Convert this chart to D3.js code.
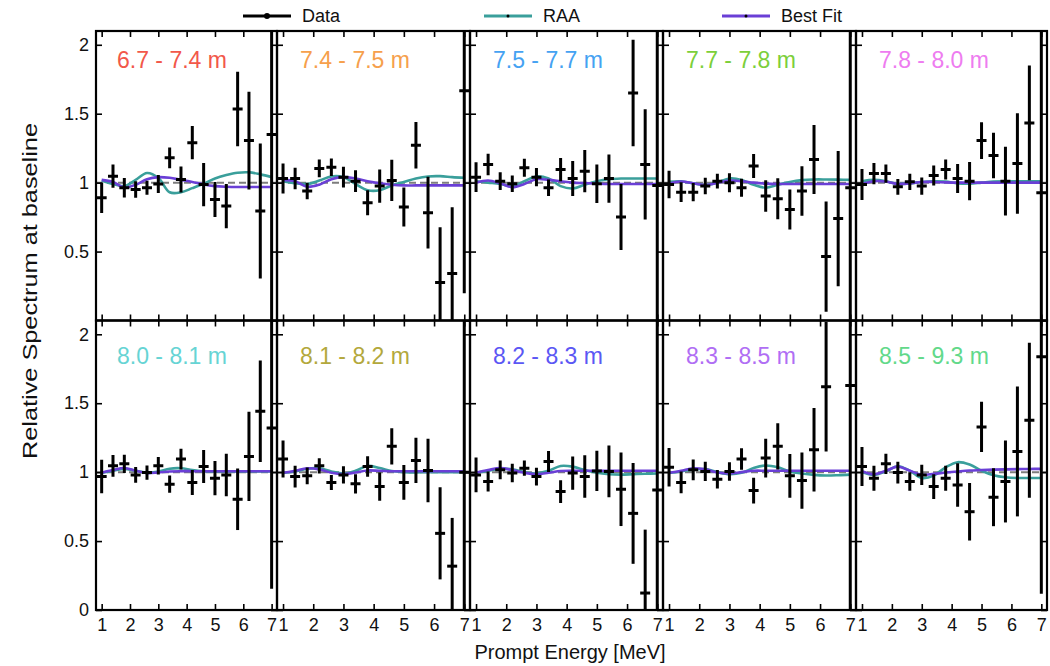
<!DOCTYPE html>
<html>
<head>
<meta charset="utf-8">
<script src="https://cdn.jsdelivr.net/npm/d3@7"></script>
<style>
  body { margin: 0; background: #fff; }
  svg { display: block; }
</style>
</head>
<body>
<svg id="chart" width="1050" height="666"></svg>
<script>
// Prompt-energy bin centres (MeV), shared by every baseline region
const energies = [1.0, 1.4, 1.8, 2.2, 2.6, 3.0, 3.4, 3.8, 4.2, 4.6, 5.0, 5.4, 5.8, 6.2, 6.6, 7.0];

const regionLabels = ["6.7 - 7.4 m", "7.4 - 7.5 m", "7.5 - 7.7 m", "7.7 - 7.8 m", "7.8 - 8.0 m",
                      "8.0 - 8.1 m", "8.1 - 8.2 m", "8.2 - 8.3 m", "8.3 - 8.5 m", "8.5 - 9.3 m"];
const regionColors = ["#f2584a", "#f6a04c", "#45a2f2", "#7ccf3a", "#ee7cf0",
                      "#66d4d4", "#b3a83c", "#5b57f4", "#b06ef4", "#62d98a"];

// Measured relative spectrum per region (null = empty bin)
const values1 = [0.89, 1.047, 0.963, 0.95, 0.963, 0.99, 1.18, 1.023, 1.29, 0.986, 0.878, 0.83, 1.534, 1.305, 0.794, 1.35];
const values2 = [1.03, 1.03, 0.939, 1.103, 1.112, 1.04, 1.011, 0.854, 0.975, 1.016, 0.823, 1.271, 0.782, 0.276, 0.341, 1.667];
const values3 = [1.04, 1.132, 1.011, 0.992, 1.108, 1.04, 0.963, 1.095, 1.03, 1.083, 0.992, 1.03, 0.751, 1.65, 1.132, 0.98];
const values4 = [0.987, 0.931, 0.931, 0.975, 1.011, 0.999, 0.963, 1.12, 0.903, 0.883, 0.806, 0.939, 1.168, 0.464, 0.739, 0.963];
const values5 = [0.987, 1.066, 1.066, 0.97, 1.006, 0.975, 1.052, 1.095, 1.03, 1.011, 1.305, 1.197, 1.011, 1.139, 1.433, 0.927];
const values6 = [0.968, 1.046, 1.06, 0.98, 0.997, 1.046, 0.913, 1.095, 0.925, 1.041, 0.956, 0.98, 0.803, 1.114, 1.441, 1.32];
const values7 = [1.095, 0.968, 0.973, 1.046, 0.925, 0.98, 0.915, 1.041, 0.895, 1.187, 0.925, 1.085, 1.012, 0.556, 0.318, 1.0];
const values8 = [0.98, 0.932, 1.017, 0.993, 1.029, 0.968, 1.077, 0.859, 0.993, 0.968, 1.009, 1.005, 0.876, 0.701, 0.123, 0.871];
const values9 = [1.036, 0.925, 1.017, 1.005, 0.949, 1.005, 1.095, 0.866, 1.102, 1.187, 0.973, 0.939, 1.162, 1.619, null, 1.629];
const values10 = [1.041, 0.956, 1.06, 0.997, 0.932, 0.98, 0.895, 0.956, 0.907, 0.713, 1.328, 0.818, 0.932, 1.15, 1.376, 1.837];

// Statistical uncertainties per bin
const errors1 = [0.11, 0.084, 0.07, 0.06, 0.05, 0.065, 0.075, 0.095, 0.12, 0.157, 0.127, 0.16, 0.27, 0.355, 0.49, 1.5];
const errors2 = [0.108, 0.078, 0.06, 0.064, 0.064, 0.075, 0.078, 0.09, 0.12, 0.15, 0.142, 0.169, 0.26, 0.40, 0.48, 1.47];
const errors3 = [0.108, 0.078, 0.064, 0.06, 0.065, 0.066, 0.06, 0.084, 0.127, 0.153, 0.139, 0.175, 0.239, 0.386, 0.40, 1.7];
const errors4 = [0.10, 0.072, 0.066, 0.06, 0.053, 0.069, 0.065, 0.087, 0.114, 0.148, 0.145, 0.18, 0.25, 0.40, 0.49, 1.8];
const errors5 = [0.112, 0.077, 0.066, 0.057, 0.059, 0.063, 0.072, 0.072, 0.106, 0.139, 0.133, 0.165, 0.25, 0.364, 0.416, 1.7];
const errors6 = [0.121, 0.079, 0.067, 0.057, 0.052, 0.064, 0.063, 0.075, 0.091, 0.119, 0.124, 0.154, 0.223, 0.324, 0.368, 1.165];
const errors7 = [0.134, 0.079, 0.061, 0.055, 0.055, 0.063, 0.07, 0.075, 0.102, 0.131, 0.126, 0.164, 0.231, 0.334, 0.35, 1.5];
const errors8 = [0.126, 0.073, 0.068, 0.067, 0.055, 0.064, 0.076, 0.082, 0.121, 0.154, 0.146, 0.188, 0.267, 0.366, 0.46, 1.5];
const errors9 = [0.14, 0.079, 0.075, 0.07, 0.067, 0.067, 0.078, 0.093, 0.14, 0.167, 0.158, 0.204, 0.303, 0.47, null, 1.7];
const errors10 = [0.141, 0.091, 0.073, 0.079, 0.067, 0.073, 0.089, 0.091, 0.158, 0.209, 0.182, 0.21, 0.297, 0.471, 0.562, 1.72];

// Model curves sampled on the same energy grid
const raa1 = [1.016, 0.99, 0.975, 1.02, 1.07, 1.035, 0.93, 0.93, 0.96, 0.992, 1.03, 1.055, 1.072, 1.075, 1.06, 1.04];
const raa2 = [1.01, 0.995, 0.99, 1.015, 1.045, 1.04, 0.99, 0.945, 0.945, 0.98, 1.005, 1.03, 1.045, 1.047, 1.04, 1.035];
const raa3 = [1.01, 1.0, 0.99, 0.975, 1.01, 1.045, 1.03, 0.975, 0.958, 0.985, 1.01, 1.025, 1.03, 1.03, 1.03, 1.03];
const raa4 = [1.006, 1.01, 0.995, 0.982, 1.0, 1.03, 1.02, 0.985, 0.963, 0.985, 1.005, 1.018, 1.023, 1.023, 1.022, 1.02];
const raa5 = [1.01, 1.02, 1.01, 0.99, 0.995, 1.005, 1.01, 1.008, 0.995, 0.992, 1.0, 1.008, 1.01, 1.01, 1.01, 1.01];
const raa6 = [0.995, 1.01, 1.024, 1.01, 0.995, 1.005, 1.025, 1.028, 1.015, 1.007, 1.005, 1.005, 1.005, 1.005, 1.005, 1.005];
const raa7 = [0.995, 1.005, 1.025, 1.028, 1.005, 0.99, 1.01, 1.045, 1.03, 1.008, 1.0, 0.998, 1.0, 1.0, 1.0, 1.0];
const raa8 = [0.995, 1.01, 1.025, 1.02, 1.0, 0.99, 1.01, 1.045, 1.04, 1.015, 0.995, 0.985, 0.982, 0.985, 0.988, 0.99];
const raa9 = [0.995, 1.005, 1.02, 1.022, 1.0, 0.985, 0.995, 1.03, 1.048, 1.035, 1.005, 0.99, 0.98, 0.976, 0.978, 0.982];
const raa10 = [1.0, 0.98, 1.005, 1.043, 1.01, 0.958, 0.975, 1.035, 1.072, 1.055, 1.01, 0.978, 0.963, 0.958, 0.958, 0.958];

const fit1 = [1.02, 1.005, 0.965, 0.985, 1.025, 1.04, 1.035, 1.02, 1.005, 0.987, 0.975, 0.97, 0.968, 0.968, 0.968, 0.968];
const fit2 = [1.02, 1.01, 0.97, 0.985, 1.025, 1.04, 1.03, 1.01, 0.995, 0.985, 0.98, 0.98, 0.98, 0.98, 0.98, 0.98];
const fit3 = [1.0, 1.015, 0.995, 0.967, 0.99, 1.025, 1.02, 1.01, 1.0, 0.997, 0.993, 0.99, 0.99, 0.99, 0.99, 0.99];
const fit4 = [0.992, 1.008, 0.995, 0.982, 0.998, 1.015, 1.01, 1.0, 0.993, 0.99, 0.99, 0.99, 0.99, 0.99, 0.99, 0.99];
const fit5 = [0.99, 1.01, 1.008, 0.99, 0.995, 1.005, 1.005, 1.002, 1.0, 1.0, 1.0, 1.0, 1.0, 1.0, 1.0, 1.0];
const fit6 = [0.995, 1.015, 1.03, 1.01, 0.993, 0.998, 1.005, 1.007, 1.007, 1.007, 1.007, 1.007, 1.007, 1.007, 1.007, 1.007];
const fit7 = [0.995, 1.01, 1.028, 1.02, 0.995, 0.985, 0.998, 1.012, 1.01, 1.007, 1.007, 1.007, 1.007, 1.007, 1.007, 1.007];
const fit8 = [0.995, 1.015, 1.03, 1.015, 0.995, 0.985, 0.995, 1.008, 1.01, 1.01, 1.01, 1.01, 1.01, 1.01, 1.01, 1.01];
const fit9 = [0.995, 1.01, 1.028, 1.02, 0.998, 0.99, 1.0, 1.01, 1.01, 1.01, 1.01, 1.01, 1.01, 1.01, 1.01, 1.01];
const fit10 = [1.007, 0.985, 1.01, 1.04, 1.01, 0.982, 0.988, 0.997, 1.005, 1.012, 1.015, 1.018, 1.02, 1.022, 1.023, 1.024];

const xTickValues = [1, 2, 3, 4, 5, 6, 7];
const yTickValuesTop = [0.5, 1, 1.5, 2];
const yTickValuesBottom = [0, 0.5, 1, 1.5, 2];

const legendLabels = ["Data", "RAA", "Best Fit"];

const allValues = [values1, values2, values3, values4, values5, values6, values7, values8, values9, values10];
const allErrors = [errors1, errors2, errors3, errors4, errors5, errors6, errors7, errors8, errors9, errors10];
const allRaa = [raa1, raa2, raa3, raa4, raa5, raa6, raa7, raa8, raa9, raa10];
const allFit = [fit1, fit2, fit3, fit4, fit5, fit6, fit7, fit8, fit9, fit10];

// ---- layout & styling ----
const colEdges = [96, 277, 470, 663, 856, 1047];
const rowEdges = [31, 320.5, 610];
const xDomain = [0.8, 7.19];
const yDomain = [0, 2.1];
const RAA_COLOR = "#3a9f9b";
const FIT_COLOR = "#6a3fd6";
const FONT = "'Liberation Sans', Arial, Helvetica, sans-serif";

const svg = d3.select("#chart");
const defs = svg.append("defs");

regionLabels.forEach((label, i) => {
  const c = i % 5, r = Math.floor(i / 5);
  const x = d3.scaleLinear().domain(xDomain).range([colEdges[c], colEdges[c + 1]]);
  const y = d3.scaleLinear().domain(yDomain).range([rowEdges[r + 1], rowEdges[r]]);
  const [x0, x1] = x.range();
  const [yb, yt] = y.range();

  const clipId = "clip-" + i;
  defs.append("clipPath").attr("id", clipId)
    .append("rect").attr("x", x0).attr("y", yt).attr("width", x1 - x0).attr("height", yb - yt);

  const g = svg.append("g");
  const plot = g.append("g").attr("clip-path", `url(#${clipId})`);

  // unity reference
  plot.append("line")
    .attr("x1", x0).attr("x2", x1).attr("y1", y(1)).attr("y2", y(1))
    .attr("stroke", "#7d7d7d").attr("stroke-width", 2).attr("stroke-dasharray", "7,4");

  const lineGen = d3.line()
    .x(d => x(d[0])).y(d => y(d[1]))
    .curve(d3.curveCatmullRom.alpha(0.5));

  plot.append("path")
    .attr("d", lineGen(energies.map((e, k) => [e, allRaa[i][k]])))
    .attr("fill", "none").attr("stroke", RAA_COLOR).attr("stroke-width", 2.6);
  plot.append("path")
    .attr("d", lineGen(energies.map((e, k) => [e, allFit[i][k]])))
    .attr("fill", "none").attr("stroke", FIT_COLOR).attr("stroke-width", 2.6);

  // data points with error bars
  const pts = energies.map((e, k) => ({ e, v: allValues[i][k], err: allErrors[i][k] }))
    .filter(d => d.v !== null);
  const pg = plot.selectAll("g.pt").data(pts).join("g").attr("class", "pt");
  pg.append("line")
    .attr("x1", d => x(d.e)).attr("x2", d => x(d.e))
    .attr("y1", d => y(d.v - d.err)).attr("y2", d => y(d.v + d.err))
    .attr("stroke", "#000").attr("stroke-width", 3);
  pg.append("line")
    .attr("x1", d => x(d.e) - 5).attr("x2", d => x(d.e) + 5)
    .attr("y1", d => y(d.v)).attr("y2", d => y(d.v))
    .attr("stroke", "#000").attr("stroke-width", 3);

  // ticks on all four sides, pointing inward
  const bottomAxis = d3.axisBottom(x).tickValues(xTickValues).tickSize(-6).tickPadding(8)
    .tickFormat(r === 1 ? d3.format("d") : () => "");
  const topAxis = d3.axisTop(x).tickValues(xTickValues).tickSize(-6).tickFormat(() => "");
  const leftAxis = d3.axisLeft(y).tickValues(r === 0 ? yTickValuesTop : yTickValuesBottom)
    .tickSize(-6).tickPadding(7)
    .tickFormat(c === 0 ? (d => String(d)) : () => "");
  const rightAxis = d3.axisRight(y).tickValues(yTickValuesBottom).tickSize(-6).tickFormat(() => "");

  const axes = [
    [bottomAxis, `translate(0,${yb})`],
    [topAxis, `translate(0,${yt})`],
    [leftAxis, `translate(${x0},0)`],
    [rightAxis, `translate(${x1},0)`]
  ];
  axes.forEach(([ax, tr]) => {
    const a = g.append("g").attr("transform", tr).call(ax);
    a.select(".domain").remove();
    a.selectAll(".tick line").attr("stroke", "#000").attr("stroke-width", 1.6);
    a.selectAll(".tick text").attr("font-family", FONT).attr("font-size", 18).attr("fill", "#111");
  });

  // frame
  g.append("rect")
    .attr("x", x0).attr("y", yt).attr("width", x1 - x0).attr("height", yb - yt)
    .attr("fill", "none").attr("stroke", "#000").attr("stroke-width", 2.2);

  // region label
  g.append("text")
    .attr("x", x0 + (c === 0 ? 21 : 23)).attr("y", yt + (r === 0 ? 37 : 43))
    .attr("font-family", FONT).attr("font-size", 23)
    .attr("fill", regionColors[i])
    .text(label);
});

// axis titles
svg.append("text")
  .attr("x", 570).attr("y", 659)
  .attr("text-anchor", "middle")
  .attr("font-family", FONT).attr("font-size", 20).attr("fill", "#111")
  .text("Prompt Energy [MeV]");

svg.append("text")
  .attr("transform", "translate(37,291) rotate(-90)")
  .attr("text-anchor", "middle")
  .attr("font-family", FONT).attr("font-size", 21).attr("fill", "#111")
  .attr("textLength", 336).attr("lengthAdjust", "spacingAndGlyphs")
  .text("Relative Spectrum at baseline");

// legend
const legendX = [243, 484, 722];
const legendColors = ["#000", RAA_COLOR, FIT_COLOR];
const legendDot = [3, 1.5, 1.5];
legendLabels.forEach((lab, k) => {
  const lg = svg.append("g");
  lg.append("line")
    .attr("x1", legendX[k]).attr("x2", legendX[k] + 48).attr("y1", 16).attr("y2", 16)
    .attr("stroke", legendColors[k]).attr("stroke-width", 3);
  lg.append("circle")
    .attr("cx", legendX[k] + 24).attr("cy", 16).attr("r", legendDot[k]).attr("fill", "#000");
  lg.append("text")
    .attr("x", legendX[k] + 59).attr("y", 22)
    .attr("font-family", FONT).attr("font-size", 18).attr("fill", "#111")
    .text(lab);
});
</script>
</body>
</html>
